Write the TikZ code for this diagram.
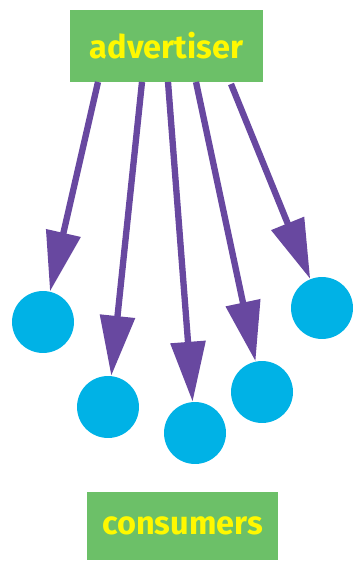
\documentclass[tikz,border=0pt]{standalone}
\usepackage{fontspec}
\setmainfont{Fira Sans}
\usetikzlibrary{arrows.meta}

\definecolor{boxgreen}{RGB}{108,192,104}
\definecolor{txtyellow}{RGB}{255,248,0}
\definecolor{arrowpurple}{RGB}{104,72,160}
\definecolor{dotblue}{RGB}{0,178,230}

\begin{document}
\begin{tikzpicture}[
        x=0.02cm, y=-0.02cm,
        labelbox/.style={fill=boxgreen, text=txtyellow, font=\fontsize{18.5}{22}\selectfont\bfseries},
        consumer/.style={circle, fill=dotblue, minimum size=1.24cm, inner sep=0pt},
        pointer/.style={-{Triangle[length=1.2cm, width=0.68cm]}, line width=3.6pt, draw=arrowpurple}
    ]
        \useasboundingbox (0,0) rectangle (352,563);
        \node[labelbox, minimum width=3.86cm, minimum height=1.44cm] (adv) at (166.5,46) {advertiser};
        \node[labelbox, minimum width=3.82cm, minimum height=1.36cm] (cons) at (182.5,526) {consumers};

        \node[consumer] (c1) at (43,322) {};
        \node[consumer] (c2) at (108,407) {};
        \node[consumer] (c3) at (195,433) {};
        \node[consumer] (c4) at (262,392) {};
        \node[consumer] (c5) at (322,308) {};

        \coordinate (s1) at (98,82);
        \coordinate (s2) at (142,82);
        \coordinate (s3) at (168,82);
        \coordinate (s4) at (196,82);
        \coordinate (s5) at (231,84);

        \foreach \i in {1,...,5}
            \draw[pointer] (s\i) -- (c\i);
\end{tikzpicture}
\end{document}
